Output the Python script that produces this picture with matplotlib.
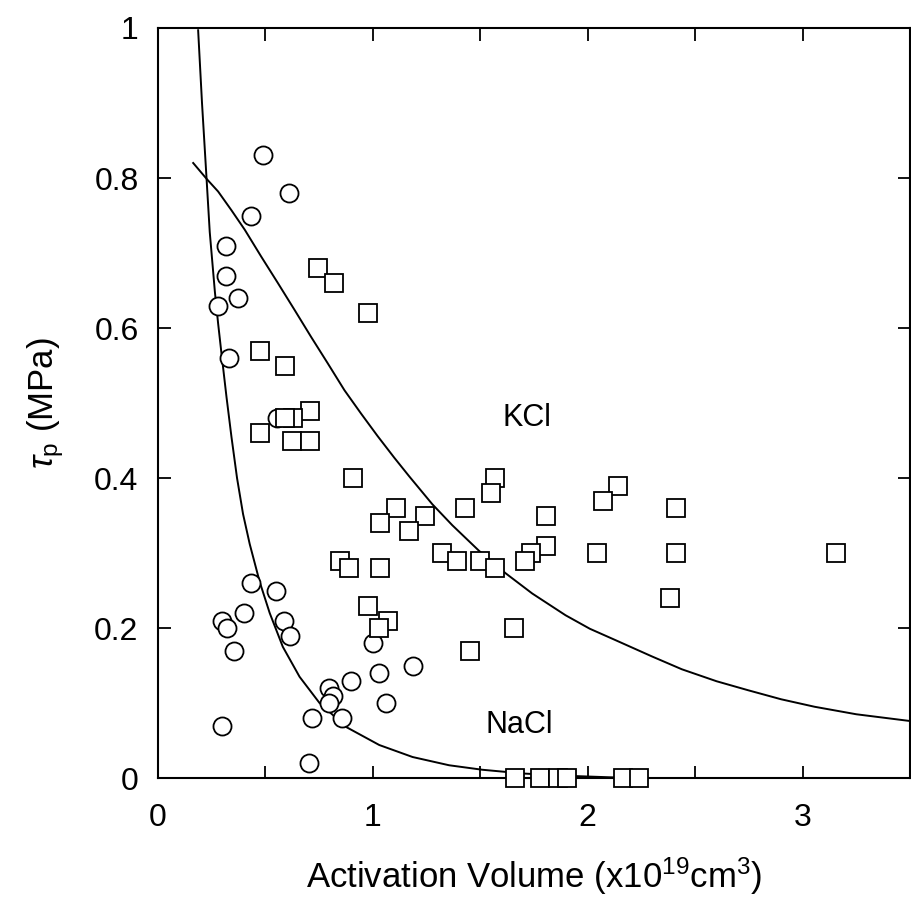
import numpy as np
import matplotlib
matplotlib.use("Agg")
import matplotlib.pyplot as plt
from matplotlib.ticker import MultipleLocator, FuncFormatter

plt.rcParams['font.family'] = ['Liberation Sans', 'DejaVu Sans']
plt.rcParams['mathtext.fontset'] = 'custom'
plt.rcParams['mathtext.rm'] = 'Liberation Sans'
plt.rcParams['mathtext.it'] = 'Liberation Sans:italic'

# NaCl data (circles)
nacl_x = [0.487, 0.608, 0.432, 0.316, 0.316, 0.371, 0.278, 0.329, 0.552,
          0.432, 0.548, 0.298, 0.320, 0.400, 0.354, 0.588, 0.614, 0.298,
          0.704, 0.719, 0.795, 0.814, 0.795, 0.855, 0.897, 0.999, 1.027,
          1.061, 1.185]
nacl_y = [0.83, 0.78, 0.75, 0.71, 0.67, 0.64, 0.63, 0.56, 0.48,
          0.26, 0.25, 0.21, 0.20, 0.22, 0.17, 0.21, 0.19, 0.07,
          0.02, 0.08, 0.12, 0.11, 0.10, 0.08, 0.13, 0.18, 0.14,
          0.10, 0.15]

# KCl data (squares)
kcl_x = [0.744, 0.818, 0.976, 0.475, 0.593, 0.707, 0.628, 0.593, 0.475,
         0.626, 0.708, 0.908, 1.108, 1.245, 1.032, 1.169, 1.321, 0.848,
         0.888, 1.032, 0.976, 1.072, 1.027, 1.451, 1.393, 1.499, 1.568,
         1.548, 1.431, 1.808, 2.139, 2.070, 2.413, 1.808, 1.734, 1.706,
         2.042, 2.413, 3.155, 1.568, 2.385, 1.657, 1.661, 1.776, 1.861,
         1.906, 2.162, 2.241]
kcl_y = [0.68, 0.66, 0.62, 0.57, 0.55, 0.49, 0.48, 0.48, 0.46,
         0.45, 0.45, 0.40, 0.36, 0.35, 0.34, 0.33, 0.30, 0.29,
         0.28, 0.28, 0.23, 0.21, 0.20, 0.17, 0.29, 0.29, 0.40,
         0.38, 0.36, 0.35, 0.39, 0.37, 0.36, 0.31, 0.30, 0.29,
         0.30, 0.30, 0.30, 0.28, 0.24, 0.20, 0.0, 0.0, 0.0,
         0.0, 0.0, 0.0]

# fitted curves
nacl_fit_x = [0.187, 0.205, 0.226, 0.241, 0.265, 0.280, 0.296, 0.319, 0.342,
              0.368, 0.396, 0.427, 0.473, 0.520, 0.581, 0.659, 0.752, 0.876,
              1.030, 1.185, 1.355, 1.510, 1.700, 1.900, 2.100, 2.250]
nacl_fit_y = [0.997, 0.900, 0.800, 0.728, 0.648, 0.606, 0.565, 0.508, 0.455,
              0.400, 0.352, 0.312, 0.262, 0.220, 0.175, 0.135, 0.100, 0.068,
              0.044, 0.028, 0.017, 0.011, 0.006, 0.003, 0.001, 0.0]

kcl_fit_x = [0.164, 0.226, 0.280, 0.342, 0.404, 0.481, 0.558, 0.636, 0.713,
             0.790, 0.868, 0.945, 1.022, 1.100, 1.170, 1.277, 1.370, 1.494,
             1.618, 1.742, 1.897, 2.010, 2.128, 2.300, 2.438, 2.600, 2.747,
             2.900, 3.056, 3.250, 3.500]
kcl_fit_y = [0.820, 0.799, 0.782, 0.757, 0.731, 0.695, 0.660, 0.624, 0.588,
             0.553, 0.517, 0.486, 0.456, 0.427, 0.402, 0.365, 0.337, 0.303,
             0.273, 0.246, 0.217, 0.199, 0.184, 0.162, 0.145, 0.129, 0.117,
             0.105, 0.095, 0.085, 0.076]

fig = plt.figure(figsize=(9.12, 9.09), dpi=100)
ax = fig.add_axes([0.1732, 0.1441, 0.8246, 0.8251])

ax.plot(nacl_fit_x, nacl_fit_y, color='black', lw=1.4, zorder=2)
ax.plot(kcl_fit_x, kcl_fit_y, color='black', lw=1.4, zorder=2)

ax.plot(nacl_x, nacl_y, 'o', ms=13, mfc='white', mec='black', mew=1.3,
        clip_on=False, zorder=3)
ax.plot(kcl_x, kcl_y, 's', ms=13, mfc='white', mec='black', mew=1.3,
        clip_on=False, zorder=4)

ax.text(1.717, 0.48, 'KCl', fontsize=22, ha='center', va='center')
ax.text(1.68, 0.071, 'NaCl', fontsize=22, ha='center', va='center')

ax.set_xlim(0, 3.5)
ax.set_ylim(0, 1)
ax.xaxis.set_major_locator(MultipleLocator(1))
ax.xaxis.set_minor_locator(MultipleLocator(0.5))
ax.yaxis.set_major_locator(MultipleLocator(0.2))
ax.yaxis.set_major_formatter(FuncFormatter(lambda v, p: '%g' % round(v, 1)))

ax.tick_params(which='both', direction='in', top=True, right=True,
               length=9, width=1.3, labelsize=23)
ax.tick_params(axis='x', which='major', pad=18)
ax.tick_params(axis='y', which='major', pad=14)
for s in ax.spines.values():
    s.set_linewidth(1.5)

ax.set_xlabel(r'Activation Volume (x10$^{19}$cm$^{3}$)', fontsize=25, labelpad=16)
ax.set_ylabel(r'$\tau_{\rm p}$ (MPa)', fontsize=25, labelpad=20)

fig.savefig('out.png', dpi=100)
